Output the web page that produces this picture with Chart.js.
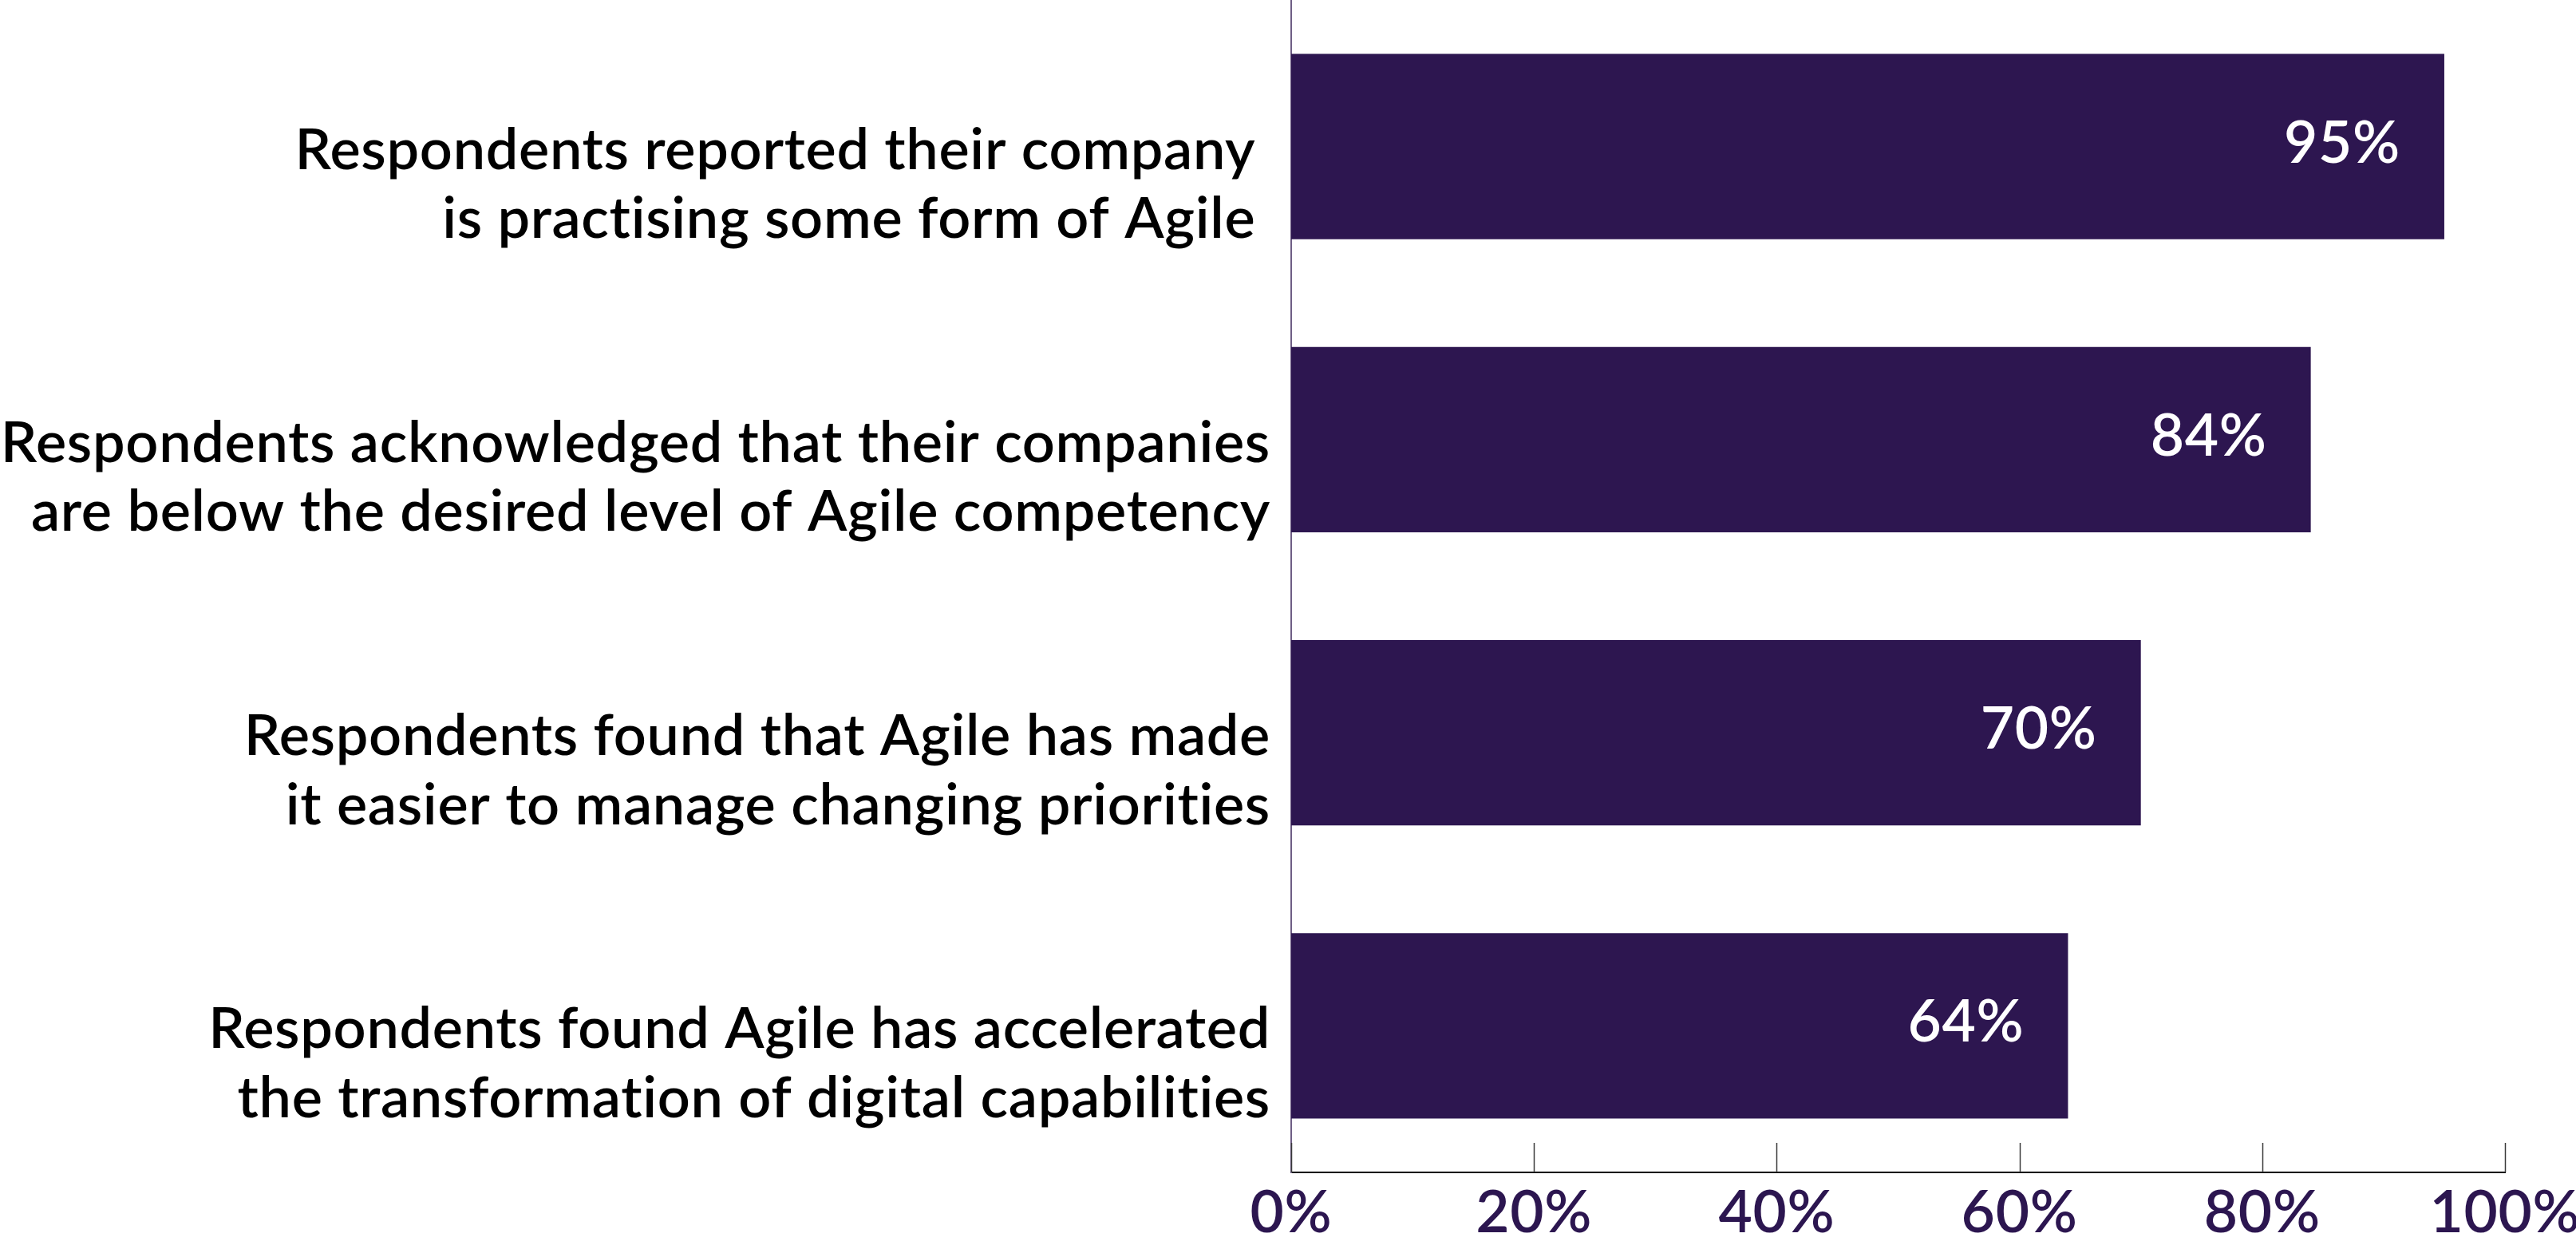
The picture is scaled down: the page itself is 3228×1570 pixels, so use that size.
<!DOCTYPE html>
<html>
<head>
<meta charset="utf-8">
<script src="https://cdn.jsdelivr.net/npm/chart.js@4.4.1/dist/chart.umd.min.js"></script>
<style>
  html, body { margin: 0; padding: 0; background: #ffffff; }
  #wrap { width: 3228px; height: 1570px; position: relative; }
</style>
</head>
<body>
<div id="wrap"><canvas id="c" width="3228" height="1570"></canvas></div>
<script>
// ---- data ----
const categories = [
  ["Respondents reported their company ", "is practising some form of Agile "],
  ["Respondents acknowledged that their companies", "are below the desired level of Agile competency"],
  ["Respondents found that Agile has made", "it easier to manage changing priorities"],
  ["Respondents found Agile has accelerated", "the transformation of digital capabilities"]
];
const values = [95, 84, 70, 64];
const xTickValues = [0, 20, 40, 60, 80, 100];
const tickSuffix = "%";

// ---- styles ----
const BAR_COLOR = "#2d1650";
const TEXT_PURPLE = "#2c1650";
const FONT = "Lato, 'Open Sans', sans-serif";

const spacing = {
  id: "spacing",
  beforeLayout(chart) { chart.ctx.letterSpacing = "0.7px"; },
  beforeDraw(chart) { chart.ctx.letterSpacing = "0.7px"; }
};

const tickMarks = {
  id: "tickMarks",
  afterDraw(chart) {
    const ctx = chart.ctx;
    const xs = chart.scales.x;
    const bottom = chart.chartArea.bottom;
    ctx.save();
    ctx.strokeStyle = "#3a3a3a";
    ctx.lineWidth = 1.5;
    xTickValues.forEach(v => {
      const px = Math.round(xs.getPixelForValue(v)) + 0.5;
      ctx.beginPath();
      ctx.moveTo(px, bottom - 37);
      ctx.lineTo(px, bottom);
      ctx.stroke();
    });
    ctx.restore();
  }
};

const valueLabels = {
  id: "valueLabels",
  afterDatasetsDraw(chart) {
    const ctx = chart.ctx;
    const meta = chart.getDatasetMeta(0);
    ctx.save();
    ctx.fillStyle = "#ffffff";
    ctx.font = "600 73px " + FONT;
    ctx.textAlign = "right";
    ctx.textBaseline = "alphabetic";
    meta.data.forEach((bar, i) => {
      ctx.fillText(values[i] + tickSuffix, bar.x - 55, bar.y + 20);
    });
    ctx.restore();
  }
};

new Chart(document.getElementById("c"), {
  type: "bar",
  data: {
    labels: categories,
    datasets: [{
      data: values,
      backgroundColor: BAR_COLOR,
      borderWidth: 0,
      barPercentage: 0.632,
      categoryPercentage: 1.0
    }]
  },
  options: {
    indexAxis: "y",
    responsive: false,
    animation: false,
    devicePixelRatio: 1,
    layout: { padding: 0 },
    plugins: {
      legend: { display: false },
      tooltip: { enabled: false },
      title: { display: false }
    },
    scales: {
      x: {
        type: "linear",
        min: 0,
        max: 100,
        afterBuildTicks(scale) {
          scale.ticks = xTickValues.map(v => ({ value: v }));
        },
        ticks: {
          callback: v => v + tickSuffix,
          color: TEXT_PURPLE,
          font: { family: FONT, size: 73, weight: "600" },
          padding: 8,
          maxRotation: 0,
          autoSkip: false
        },
        grid: { display: false, drawTicks: false },
        border: { display: true, color: "#000000", width: 2 },
        afterFit(scale) {
          scale.height = 101;
          scale.paddingLeft = 0;
          scale.paddingRight = 89;
        }
      },
      y: {
        ticks: {
          color: "#000000",
          font: { family: FONT, size: 72, weight: "600", lineHeight: 1.2 },
          padding: 26,
          labelOffset: 48,
          autoSkip: false
        },
        grid: { display: false, drawTicks: false },
        border: { display: true, color: "#6e5e85", width: 2 },
        afterFit(scale) {
          scale.width = 1618;
          scale.paddingTop = 0;
          scale.paddingBottom = 0;
        }
      }
    }
  },
  plugins: [spacing, valueLabels, tickMarks]
});
</script>
</body>
</html>
